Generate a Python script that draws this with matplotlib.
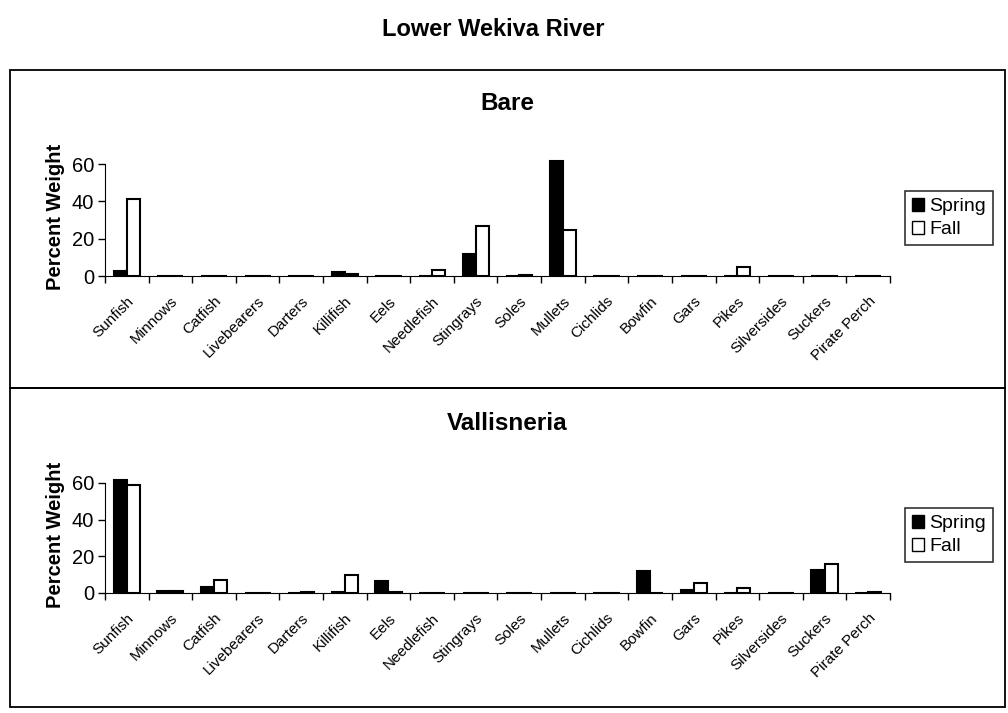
import numpy as np
import matplotlib.pyplot as plt
from matplotlib.patches import Rectangle, Patch
from matplotlib.transforms import ScaledTranslation

plt.rcParams['font.family'] = ['Liberation Sans', 'DejaVu Sans']

categories = ["Sunfish", "Minnows", "Catfish", "Livebearers", "Darters", "Killifish",
              "Eels", "Needlefish", "Stingrays", "Soles", "Mullets", "Cichlids",
              "Bowfin", "Gars", "Pikes", "Silversides", "Suckers", "Pirate Perch"]

bare_spring = [2.5, 0, 0, 0, 0, 2, 0, 0, 11.8, 0, 61.5, 0, 0, 0, 0, 0, 0, 0]
bare_fall = [41.5, 0, 0, 0, 0, 1, 0, 3, 26.8, 0.3, 24.5, 0, 0, 0, 4.8, 0, 0, 0]

vall_spring = [61.6, 1.2, 3.5, 0, 0, 0.8, 6.4, 0, 0, 0, 0, 0, 11.8, 1.5, 0, 0, 12.4, 0]
vall_fall = [59, 1.2, 7.3, 0, 0.3, 9.6, 0.8, 0, 0, 0, 0, 0, 0, 5.5, 2.5, 0, 16, 0.5]

W, H = 1008, 713
fig = plt.figure(figsize=(W / 100, H / 100), dpi=100)

# outer frames of the two panels
for y0, y1 in [(70, 388), (388, 707)]:
    fig.patches.append(Rectangle((10 / W, 1 - y1 / H), 995 / W, (y1 - y0) / H,
                                 transform=fig.transFigure, fill=False,
                                 edgecolor="black", linewidth=1.3))

fig.text(493 / W, 1 - 29 / H, "Lower Wekiva River", ha="center", va="center",
         fontsize=17, fontweight="bold")

shift = ScaledTranslation(-6 / 72, 0, fig.dpi_scale_trans)


def panel(base_px, top_px, title, title_y, legend_y, spring, fall):
    ymax = 63
    px_per_unit = (base_px - top_px) / 60
    h = ymax * px_per_unit
    ax = fig.add_axes([105 / W, 1 - base_px / H, 785 / W, h / H])
    x = np.arange(len(categories))
    w = 0.3
    ax.bar(x - w / 2, spring, w, color="black", edgecolor="black", linewidth=1.5)
    ax.bar(x + w / 2, fall, w, color="white", edgecolor="black", linewidth=1.5)
    ax.set_xlim(-0.5, len(categories) - 0.5)
    ax.set_ylim(0, ymax)
    ax.spines["top"].set_visible(False)
    ax.spines["right"].set_visible(False)
    ax.spines["left"].set_bounds(0, 60)
    ax.set_yticks([0, 20, 40, 60])
    ax.tick_params(axis="y", labelsize=14.5, length=5, width=1, pad=3)
    ax.set_xticks(x)
    ax.set_xticklabels(categories, rotation=45, ha="right", rotation_mode="anchor",
                       fontsize=11)
    for lab in ax.get_xticklabels():
        lab.set_transform(lab.get_transform() + shift)
    ax.set_xticks(np.arange(-0.5, len(categories)), minor=True)
    ax.tick_params(axis="x", which="major", length=0, pad=13)
    ax.tick_params(axis="x", which="minor", length=5, width=1)
    ax.set_ylabel("Percent Weight", fontsize=14.5, fontweight="bold", labelpad=5)
    fig.text(507 / W, 1 - title_y / H, title, ha="center", va="center",
             fontsize=17.5, fontweight="bold")
    handles = [Patch(facecolor="black", edgecolor="black", label="Spring"),
               Patch(facecolor="white", edgecolor="black", label="Fall")]
    leg = ax.legend(handles=handles, loc="upper left",
                    bbox_to_anchor=(905 / W, 1 - legend_y / H),
                    bbox_transform=fig.transFigure, borderaxespad=0,
                    frameon=True, fancybox=False, fontsize=14,
                    handlelength=0.65, handleheight=0.65, handletextpad=0.25,
                    labelspacing=0.3, borderpad=0.35)
    leg.get_frame().set_edgecolor("black")
    leg.get_frame().set_linewidth(1.2)
    return ax


panel(276, 164, "Bare", 104, 191, bare_spring, bare_fall)
panel(593, 483, "Vallisneria", 424, 508, vall_spring, vall_fall)

fig.savefig("out.png", dpi=100)
